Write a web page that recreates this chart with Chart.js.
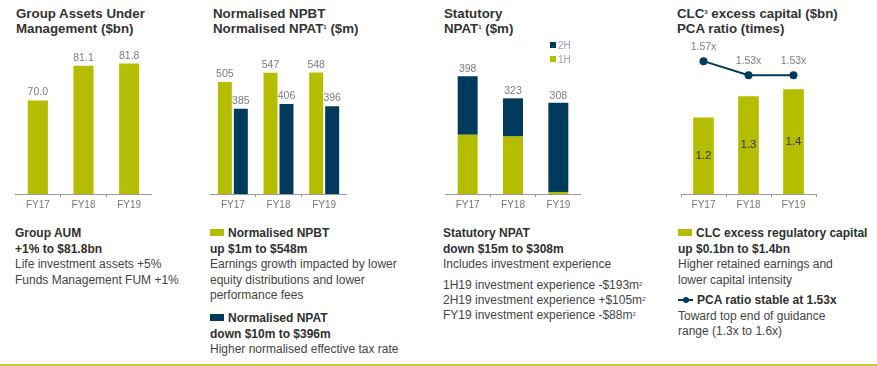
<!DOCTYPE html>
<html>
<head>
<meta charset="utf-8">
<script src="https://cdn.jsdelivr.net/npm/chart.js@4/dist/chart.umd.min.js"></script>
<style>
  html, body { margin: 0; padding: 0; background: #fff; }
  body { width: 877px; height: 366px; position: relative; overflow: hidden; font-family: "Liberation Sans", Arial, sans-serif; }
  canvas { position: absolute; top: 0; }
  .title { position: absolute; top: 6px; font-weight: bold; font-size: 13.3px; line-height: 15px; color: #333; white-space: nowrap; }
  .blk { position: absolute; font-size: 12px; line-height: 15.6px; color: #444; white-space: nowrap; }
  .blk b { color: #2f2f2f; }
  sup { font-size: 6px; vertical-align: top; position: relative; top: -1px; }
  .sq { display: inline-block; width: 14px; height: 7px; margin-right: 4px; vertical-align: 1px; }
  .leg { position: absolute; font-size: 10px; color: #95a0b0; line-height: 12px; }
  .leg i { display: inline-block; width: 6px; height: 6px; margin-right: 2px; vertical-align: 1px; }
  .icon { display: inline-block; position: relative; width: 15px; height: 7px; margin-right: 4px; vertical-align: 1px; }
  .icon:before { content: ""; position: absolute; left: 0; right: 0; top: 3px; height: 2px; background: #003a5d; }
  .icon:after { content: ""; position: absolute; left: 5px; top: 1px; width: 6px; height: 6px; border-radius: 50%; background: #003a5d; }
  #rule { position: absolute; left: 0; top: 364px; width: 877px; height: 2px; background: #c3cb3c; }
</style>
</head>
<body>
<div class="title" style="left:16px">Group Assets Under<br>Management ($bn)</div>
<div class="title" style="left:213px">Normalised NPBT<br>Normalised NPAT<sup>1</sup> ($m)</div>
<div class="title" style="left:444px">Statutory<br>NPAT<sup>1</sup> ($m)</div>
<div class="title" style="left:677px">CLC<sup>3</sup> excess capital ($bn)<br>PCA ratio (times)</div>

<canvas id="c1" width="137" height="215" style="left:15px"></canvas>
<canvas id="c2" width="137" height="215" style="left:210px"></canvas>
<canvas id="c3" width="136" height="215" style="left:445px"></canvas>
<canvas id="c4" width="143" height="215" style="left:677px"></canvas>

<div class="leg" style="left:550px;top:40px"><i style="background:#003a5d"></i>2H</div>
<div class="leg" style="left:550px;top:54px"><i style="background:#b5bd00"></i>1H</div>

<div class="blk" style="left:15px;top:226px"><b>Group AUM</b><br><b>+1% to $81.8bn</b><br>Life investment assets +5%<br>Funds Management FUM +1%</div>

<div class="blk" style="left:210px;top:226px"><span class="sq" style="background:#b5bd00"></span><b>Normalised NPBT</b><br><b>up $1m to $548m</b><br>Earnings growth impacted by lower<br>equity distributions and lower<br>performance fees</div>
<div class="blk" style="left:210px;top:311px"><span class="sq" style="background:#003a5d"></span><b>Normalised NPAT</b><br><b>down $10m to $396m</b><br>Higher normalised effective tax rate</div>

<div class="blk" style="left:443px;top:226px"><b>Statutory NPAT</b><br><b>down $15m to $308m</b><br>Includes investment experience</div>
<div class="blk" style="left:443px;top:278px;line-height:15.2px">1H19 investment experience -$193m<sup>2</sup><br>2H19 investment experience +$105m<sup>2</sup><br>FY19 investment experience -$88m<sup>2</sup></div>

<div class="blk" style="left:678px;top:226px"><span class="sq" style="background:#b5bd00"></span><b>CLC excess regulatory capital</b><br><b>up $0.1bn to $1.4bn</b><br>Higher retained earnings and<br>lower capital intensity</div>
<div class="blk" style="left:678px;top:293px"><span class="icon"></span><b>PCA ratio stable at 1.53x</b><br>Toward top end of guidance<br>range (1.3x to 1.6x)</div>

<div id="rule"></div>

<script>
// ---- data ----
const years = ['FY17', 'FY18', 'FY19'];
const aumValues = [70.0, 81.1, 81.8];
const npbtValues = [505, 547, 548];
const npatValues = [385, 406, 396];
const stat1H = [200, 194, 7];
const stat2H = [198, 129, 301];
const clcExcess = [1.18, 1.33, 1.38];
const pcaRatio = [1.57, 1.53, 1.53];

const GREEN = '#b5bd00';
const NAVY = '#003a5d';
const FONT = '"Liberation Sans", Arial, sans-serif';
const LABEL = '#807a80';

Chart.defaults.font.family = FONT;

const valueLabels = {
  id: 'valueLabels',
  afterDatasetsDraw(chart, args, opts) {
    const ctx = chart.ctx;
    const bottom = chart.chartArea.bottom;
    ctx.save();
    ctx.textAlign = 'center';
    if (opts.mode === 'top') {
      chart.data.datasets.forEach((ds, di) => {
        const meta = chart.getDatasetMeta(di);
        meta.data.forEach((el, i) => {
          ctx.font = '10.5px ' + FONT;
          ctx.fillStyle = LABEL;
          ctx.textBaseline = 'alphabetic';
          ctx.fillText(opts.format(ds.data[i]), el.x, el.y - 5);
        });
      });
    } else if (opts.mode === 'stackTotal') {
      const last = chart.data.datasets.length - 1;
      const meta = chart.getDatasetMeta(last);
      meta.data.forEach((el, i) => {
        let sum = 0;
        chart.data.datasets.forEach(ds => { sum += ds.data[i]; });
        ctx.font = '10.5px ' + FONT;
        ctx.fillStyle = LABEL;
        ctx.textBaseline = 'alphabetic';
        ctx.fillText(String(sum), el.x, el.y - 4);
      });
    } else if (opts.mode === 'combo') {
      chart.data.datasets.forEach((ds, di) => {
        const meta = chart.getDatasetMeta(di);
        meta.data.forEach((el, i) => {
          if (ds.type === 'line') {
            ctx.font = '10.5px ' + FONT;
            ctx.fillStyle = LABEL;
            ctx.textBaseline = 'alphabetic';
            ctx.fillText(ds.data[i].toFixed(2) + 'x', el.x, el.y - 11);
          } else {
            ctx.font = '11.5px ' + FONT;
            ctx.fillStyle = '#333';
            ctx.textBaseline = 'middle';
            const base = Math.min(el.base, bottom);
            ctx.fillText(ds.data[i].toFixed(1), el.x, (el.y + base) / 2);
          }
        });
      });
    }
    ctx.restore();
  }
};

function xAxis(extra) {
  return Object.assign({
    grid: { display: true, drawOnChartArea: false, drawTicks: true, tickLength: 3, color: '#9a9a9a', offset: true },
    border: { display: true, color: '#9a9a9a' },
    ticks: { font: { size: 10, family: FONT }, color: '#777', padding: 2 }
  }, extra || {});
}

function baseOptions(yScales, labelOpts, stacked) {
  const scales = Object.assign({ x: xAxis(stacked ? { stacked: true } : {}) }, yScales);
  return {
    responsive: false,
    animation: false,
    devicePixelRatio: 1,
    layout: { padding: { top: 40, bottom: 2, left: 0, right: 0 } },
    plugins: { legend: { display: false }, tooltip: { enabled: false }, valueLabels: labelOpts },
    scales: scales
  };
}

new Chart(document.getElementById('c1'), {
  type: 'bar',
  data: { labels: years, datasets: [{ data: aumValues, backgroundColor: GREEN, categoryPercentage: 1, barPercentage: 0.44 }] },
  options: baseOptions({ y: { display: false, min: 40, max: 89.35 } }, { mode: 'top', format: v => v.toFixed(1) }),
  plugins: [valueLabels]
});

new Chart(document.getElementById('c2'), {
  type: 'bar',
  data: { labels: years, datasets: [
    { data: npbtValues, backgroundColor: GREEN, categoryPercentage: 0.70, barPercentage: 0.875 },
    { data: npatValues, backgroundColor: NAVY, categoryPercentage: 0.70, barPercentage: 0.875 }
  ] },
  options: baseOptions({ y: { display: false, min: 0, max: 695 } }, { mode: 'top', format: v => String(v) }),
  plugins: [valueLabels]
});

new Chart(document.getElementById('c3'), {
  type: 'bar',
  data: { labels: years, datasets: [
    { label: '1H', data: stat1H, backgroundColor: GREEN, categoryPercentage: 1, barPercentage: 0.44 },
    { label: '2H', data: stat2H, backgroundColor: NAVY, categoryPercentage: 1, barPercentage: 0.44 }
  ] },
  options: baseOptions({ y: { display: false, stacked: true, min: 0, max: 520 } }, { mode: 'stackTotal' }, true),
  plugins: [valueLabels]
});

new Chart(document.getElementById('c4'), {
  type: 'bar',
  data: { labels: years, datasets: [
    { type: 'line', data: pcaRatio, yAxisID: 'y2', borderColor: NAVY, borderWidth: 2, pointRadius: 4, pointBackgroundColor: NAVY, pointBorderWidth: 0, order: 0 },
    { type: 'bar', data: clcExcess, yAxisID: 'y', backgroundColor: GREEN, categoryPercentage: 1, barPercentage: 0.46, order: 1 }
  ] },
  options: baseOptions({
    y: { display: false, min: 0.637, max: 1.73 },
    y2: { display: false, min: 1.193, max: 1.630 }
  }, { mode: 'combo' }),
  plugins: [valueLabels]
});
</script>
</body>
</html>
